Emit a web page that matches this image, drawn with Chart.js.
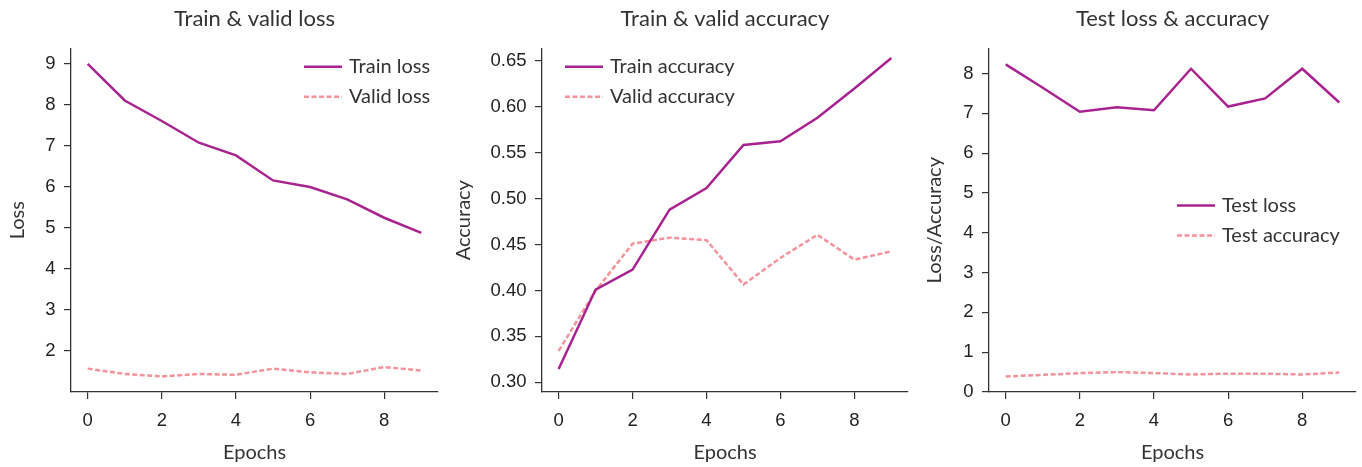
<!DOCTYPE html>
<html>
<head>
<meta charset="utf-8">
<script src="https://cdn.jsdelivr.net/npm/chart.js@4/dist/chart.umd.min.js"></script>
<style>
  body { margin: 0; background: #fff; }
  #wrap { position: relative; width: 1362px; height: 467px; }
  canvas { position: absolute; top: 0; }
</style>
</head>
<body>
<div id="wrap">
  <canvas id="c1" width="450" height="467" style="left:0px"></canvas>
  <canvas id="c2" width="460" height="467" style="left:450px"></canvas>
  <canvas id="c3" width="452" height="467" style="left:910px"></canvas>
</div>
<script>
const epochs = [0, 1, 2, 3, 4, 5, 6, 7, 8, 9];
const xTicks = [0, 2, 4, 6, 8];

const trainLoss = [8.99, 8.10, 7.60, 7.07, 6.76, 6.15, 5.99, 5.69, 5.24, 4.87];
const validLoss = [1.56, 1.43, 1.37, 1.43, 1.41, 1.56, 1.47, 1.43, 1.60, 1.51];
const lossTicks = [2, 3, 4, 5, 6, 7, 8, 9];

const trainAcc = [0.3145, 0.401, 0.4227, 0.488, 0.5115, 0.5584, 0.5623, 0.588, 0.6197, 0.6529];
const validAcc = [0.3343, 0.3997, 0.4509, 0.4574, 0.4548, 0.4065, 0.4354, 0.4606, 0.4335, 0.4426];
const accTicks = [0.30, 0.35, 0.40, 0.45, 0.50, 0.55, 0.60, 0.65];

const testLoss = [8.23, 7.64, 7.04, 7.15, 7.075, 8.12, 7.17, 7.375, 8.12, 7.27];
const testAcc = [0.39, 0.43, 0.475, 0.50, 0.475, 0.44, 0.46, 0.46, 0.44, 0.49];
const testTicks = [0, 1, 2, 3, 4, 5, 6, 7, 8];

const PURPLE = '#a8238f';
const PINK = '#f4939b';
const AXIS = '#333333';
const TEXT = '#333333';
const DASH = [5, 2.5];
const HUMAN = 'Lato, "Noto Sans", sans-serif';
const TICKFONT = '"Liberation Sans", Arial, sans-serif';

const pts = (ys) => ys.map((y, i) => ({ x: epochs[i], y: y }));

// draws the legend at fixed spots inside the plot
const legendPlugin = {
  id: 'boxLegend',
  afterDraw(chart, args, opts) {
    const ctx = chart.ctx;
    ctx.save();
    chart.data.datasets.forEach((ds, i) => {
      const y = opts.y + i * 30;
      ctx.beginPath();
      ctx.strokeStyle = ds.borderColor;
      ctx.lineWidth = ds.borderWidth;
      ctx.setLineDash(ds.borderDash || []);
      ctx.moveTo(opts.x, y);
      ctx.lineTo(opts.x + 38, y);
      ctx.stroke();
      ctx.setLineDash([]);
      ctx.fillStyle = TEXT;
      ctx.font = '20px ' + HUMAN;
      ctx.textBaseline = 'middle';
      ctx.fillText(ds.label, opts.x + 45, y);
    });
    ctx.restore();
  }
};

function makeChart(id, cfg) {
  return new Chart(document.getElementById(id), {
    type: 'line',
    data: {
      datasets: cfg.series.map((s) => ({
        label: s.label,
        data: pts(s.data),
        borderColor: s.color,
        borderWidth: 2.5,
        borderDash: s.dash ? DASH : [],
        pointRadius: 0,
        tension: 0,
        fill: false
      }))
    },
    options: {
      responsive: false,
      animation: false,
      layout: { padding: { left: 0, right: cfg.padRight, top: 0, bottom: 0 }, autoPadding: false },
      plugins: {
        legend: { display: false },
        tooltip: { enabled: false },
        title: {
          display: true,
          text: cfg.title,
          fullSize: false,
          color: TEXT,
          font: { family: HUMAN, size: 22, weight: 'normal' },
          padding: { top: 6, bottom: 16 }
        },
        boxLegend: cfg.legend
      },
      scales: {
        x: {
          type: 'linear',
          min: -0.45,
          max: 9.45,
          afterBuildTicks: (s) => { s.ticks = xTicks.map((v) => ({ value: v })); },
          afterFit: (s) => { s.height = 75; },
          ticks: { color: '#222', font: { family: TICKFONT, size: 18.5 }, padding: 11, maxRotation: 0 },
          grid: { drawOnChartArea: false, drawTicks: true, tickLength: 7, color: AXIS, lineWidth: 1.2 },
          border: { display: true, color: AXIS, width: 1.3 },
          title: { display: true, text: 'Epochs', color: TEXT, font: { family: HUMAN, size: 20 }, padding: { top: 0, bottom: 2.5 } }
        },
        y: {
          type: 'linear',
          min: cfg.yMin,
          max: cfg.yMax,
          afterBuildTicks: (s) => { s.ticks = cfg.yTicks.map((v) => ({ value: v })); },
          afterFit: (s) => { s.width = cfg.yWidth; },
          ticks: { color: '#222', font: { family: TICKFONT, size: 18.5 }, padding: 8.5, callback: cfg.fmt },
          grid: { drawOnChartArea: false, drawTicks: true, tickLength: 7, color: AXIS, lineWidth: 1.2 },
          border: { display: true, color: AXIS, width: 1.3 },
          title: { display: true, text: cfg.yTitle, color: TEXT, font: { family: HUMAN, size: 20 }, padding: { top: cfg.yTitlePad, bottom: 0 } }
        }
      }
    },
    plugins: [legendPlugin]
  });
}

makeChart('c1', {
  title: 'Train & valid loss',
  yTitle: 'Loss',
  yTitlePad: 5.5,
  yWidth: 71,
  padRight: 12,
  yMin: 0.99, yMax: 9.37,
  yTicks: lossTicks,
  fmt: (v) => String(v),
  legend: { x: 304, y: 66.7 },
  series: [
    { label: 'Train loss', data: trainLoss, color: PURPLE, dash: false },
    { label: 'Valid loss', data: validLoss, color: PINK, dash: true }
  ]
});

makeChart('c2', {
  title: 'Train & valid accuracy',
  yTitle: 'Accuracy',
  yTitlePad: 2,
  yWidth: 92,
  padRight: 2,
  yMin: 0.2895, yMax: 0.6634,
  yTicks: accTicks,
  fmt: (v) => Number(v).toFixed(2),
  legend: { x: 115, y: 66.7 },
  series: [
    { label: 'Train accuracy', data: trainAcc, color: PURPLE, dash: false },
    { label: 'Valid accuracy', data: validAcc, color: PINK, dash: true }
  ]
});

makeChart('c3', {
  title: 'Test loss & accuracy',
  yTitle: 'Loss/Accuracy',
  yTitlePad: 12.7,
  yWidth: 79,
  padRight: 6,
  yMin: 0, yMax: 8.63,
  yTicks: testTicks,
  fmt: (v) => String(v),
  legend: { x: 267, y: 205.5 },
  series: [
    { label: 'Test loss', data: testLoss, color: PURPLE, dash: false },
    { label: 'Test accuracy', data: testAcc, color: PINK, dash: true }
  ]
});
</script>
</body>
</html>
